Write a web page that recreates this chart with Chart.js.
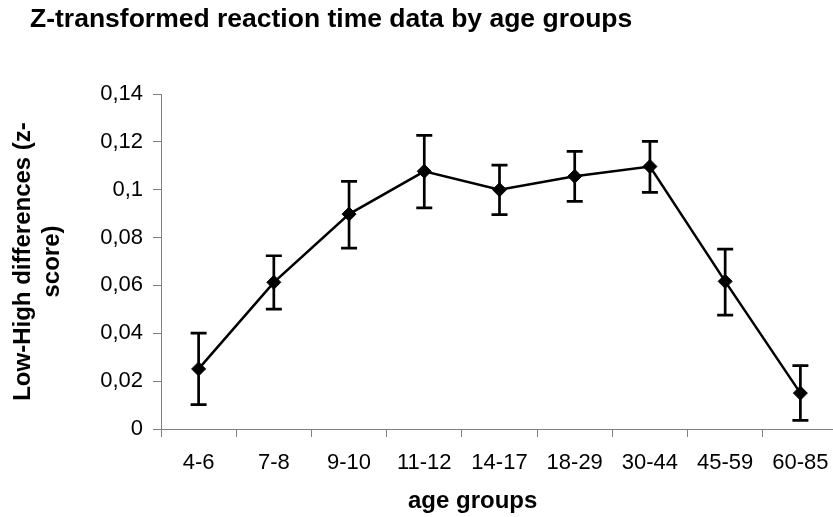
<!DOCTYPE html>
<html>
<head>
<meta charset="utf-8">
<script src="https://cdn.jsdelivr.net/npm/chart.js@4/dist/chart.umd.min.js"></script>
<style>
  html, body { margin: 0; padding: 0; background: #fff; overflow: hidden; }
  #wrap { position: relative; width: 846px; height: 517px; }
  .lbl { position: absolute; font-family: "Liberation Sans", Arial, sans-serif; font-weight: bold; line-height: 1; color: #000; white-space: nowrap; }
  #title { left: 30px; top: 5px; font-size: 26.5px; }
  #xtitle { left: 408px; top: 488px; font-size: 24px; }
</style>
</head>
<body>
<div id="wrap">
  <canvas id="chart" width="846" height="517"></canvas>
  <div class="lbl" id="title">Z-transformed reaction time data by age groups</div>
  <div class="lbl" id="xtitle">age groups</div>
</div>
<script>
const ageGroups = ['4-6', '7-8', '9-10', '11-12', '14-17', '18-29', '30-44', '45-59', '60-85'];
const zScores = [0.0251, 0.0613, 0.0898, 0.1077, 0.1000, 0.1056, 0.1097, 0.0617, 0.0150];
const errUpper = [0.0401, 0.0724, 0.1035, 0.1227, 0.1103, 0.1160, 0.1202, 0.0752, 0.0265];
const errLower = [0.0102, 0.0501, 0.0756, 0.0924, 0.0896, 0.0951, 0.0989, 0.0476, 0.0036];
const yTickLabels = ['0', '0,02', '0,04', '0,06', '0,08', '0,1', '0,12', '0,14'];

const font = "'Liberation Sans', Arial, sans-serif";

// draws the error bars under the markers
const errorBars = {
  id: 'errorBars',
  beforeDatasetsDraw(chart) {
    const ctx = chart.ctx;
    const y = chart.scales.y;
    const meta = chart.getDatasetMeta(0);
    ctx.save();
    ctx.strokeStyle = '#000';
    ctx.lineWidth = 2.7;
    meta.data.forEach((pt, i) => {
      const top = y.getPixelForValue(errUpper[i]);
      const bot = y.getPixelForValue(errLower[i]);
      ctx.beginPath();
      ctx.moveTo(pt.x, top);
      ctx.lineTo(pt.x, bot);
      ctx.moveTo(pt.x - 8, top);
      ctx.lineTo(pt.x + 8, top);
      ctx.moveTo(pt.x - 8, bot);
      ctx.lineTo(pt.x + 8, bot);
      ctx.stroke();
    });
    ctx.restore();
  }
};

new Chart(document.getElementById('chart'), {
  type: 'line',
  data: {
    labels: ageGroups,
    datasets: [{
      data: zScores,
      borderColor: '#000',
      borderWidth: 2.5,
      tension: 0,
      pointStyle: 'rectRot',
      pointRadius: 7,
      pointBackgroundColor: '#000',
      pointBorderColor: '#000',
      pointBorderWidth: 1
    }]
  },
  options: {
    responsive: false,
    animation: false,
    devicePixelRatio: 1,
    layout: { padding: { top: 94, right: 2, bottom: 0, left: 0 } },
    plugins: {
      legend: { display: false },
      tooltip: { enabled: false }
    },
    scales: {
      x: {
        offset: true,
        afterFit: (s) => { s.height = 88; },
        grid: { offset: true, drawOnChartArea: false, tickLength: 8, color: '#808080' },
        border: { color: '#808080', width: 1 },
        ticks: { color: '#000', padding: 13, maxRotation: 0, autoSkip: false, font: { family: font, size: 22 } }
      },
      y: {
        min: 0,
        max: 0.14,
        afterFit: (s) => { s.width = 161; },
        grid: { drawOnChartArea: false, tickLength: 8, color: '#808080' },
        border: { color: '#808080', width: 1 },
        ticks: {
          stepSize: 0.02,
          color: '#000',
          padding: 10,
          font: { family: font, size: 22 },
          callback: (v, i) => yTickLabels[i]
        },
        title: {
          display: true,
          text: ['Low-High differences (z-', 'score)'],
          color: '#000',
          padding: { top: 9, bottom: 0 },
          font: { family: font, size: 24, weight: 'bold', lineHeight: 1.2 }
        }
      }
    }
  },
  plugins: [errorBars]
});
</script>
</body>
</html>
